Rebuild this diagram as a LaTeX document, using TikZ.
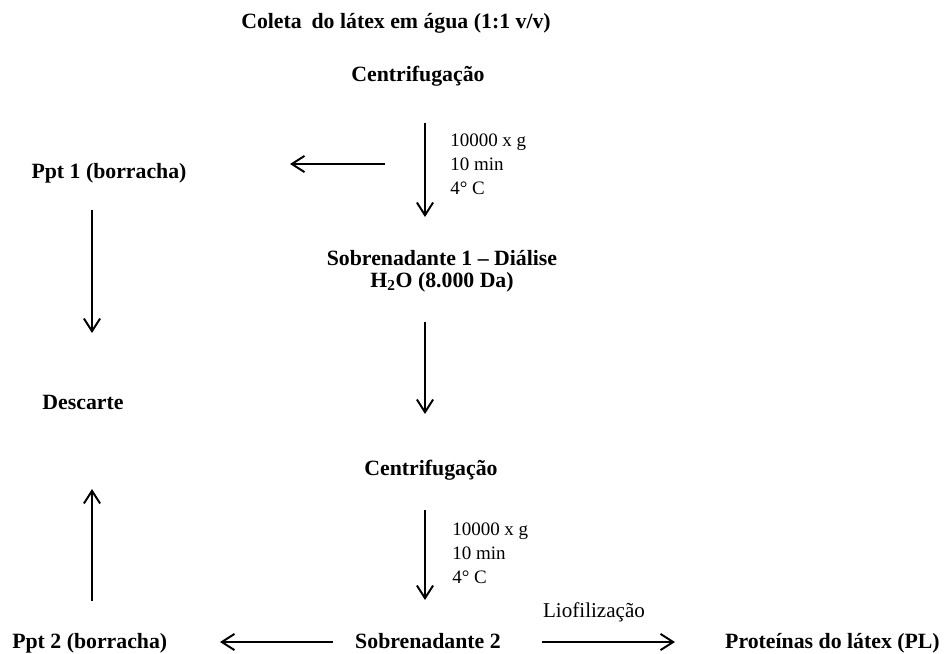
\documentclass[tikz,border=0pt]{standalone}
\usepackage{fontspec}
\setmainfont{Liberation Serif}
\usetikzlibrary{arrows.meta}

\begin{document}
\begin{tikzpicture}[
        x=0.025cm,
        y=-0.025cm,
        stage/.style={
            font=\fontsize{15.5}{15.6}\selectfont\bfseries,
            align=center,
            anchor=base,
            inner sep=0pt
        },
        cond/.style={
            font=\fontsize{13.5}{17}\selectfont,
            align=left,
            anchor=west,
            inner sep=0pt
        },
        arrow/.style={-{Straight Barb[length=9pt,width=11.5pt]}, line width=1.4pt}
    ]
    \useasboundingbox (0,0) rectangle (945,653);

    % =========================
    % First centrifugation
    % =========================
    \node[stage] (coleta) at (396,28) {Coleta\hspace{0.45em}do látex em água (1:1 v/v)};
    \node[stage] (cent1) at (418,81) {Centrifugação};
    \node[cond] (cond1) at (450,164) {10000 x g\\10 min\\4° C};
    \node[stage] (ppt1) at (109,178) {Ppt 1 (borracha)};
    % base anchor sits on the last line
    \node[stage] (sob1) at (442,287) {Sobrenadante 1 -- Diálise\\H\textsubscript{2}O (8.000 Da)};
    \node[stage] (descarte) at (83,409) {Descarte};

    % Points for the free arrow ends
    \coordinate (c1top) at (425,123);
    \coordinate (c1bot) at (425,217);
    \coordinate (p1from) at (385,164);
    \coordinate (p1to) at (290,164);
    \coordinate (d1top) at (92,210);
    \coordinate (d1bot) at (92,333);

    \draw[arrow] (c1top) -- (c1bot);
    \draw[arrow] (p1from) -- (p1to);
    \draw[arrow] (d1top) -- (d1bot);

    % =========================
    % Second centrifugation
    % =========================
    \node[stage] (cent2) at (431,475) {Centrifugação};
    \node[cond] (cond2) at (452,553) {10000 x g\\10 min\\4° C};
    \node[stage] (sob2) at (428,648) {Sobrenadante 2};
    \node[stage, anchor=base west] (ppt2) at (12,648) {Ppt 2 (borracha)};
    \node[stage, anchor=base east] (pl) at (940,648) {Proteínas do látex (PL)};

    \coordinate (s1top) at (425,322);
    \coordinate (s1bot) at (425,414);
    \coordinate (c2top) at (425,510);
    \coordinate (c2bot) at (425,600);
    \coordinate (p2from) at (333,642);
    \coordinate (p2to) at (220,642);
    \coordinate (plfrom) at (542,642);
    \coordinate (plto) at (675,642);
    \coordinate (d2bot) at (92,601);
    \coordinate (d2top) at (92,489);

    \draw[arrow] (s1top) -- (s1bot);
    \draw[arrow] (c2top) -- (c2bot);
    \draw[arrow] (p2from) -- (p2to);
    \draw[arrow] (plfrom) -- (plto);
    \node[font=\fontsize{15}{17}\selectfont, anchor=base, inner sep=0pt] (liof) at (594,617) {Liofilização};
    \draw[arrow] (d2bot) -- (d2top);

\end{tikzpicture}
\end{document}
